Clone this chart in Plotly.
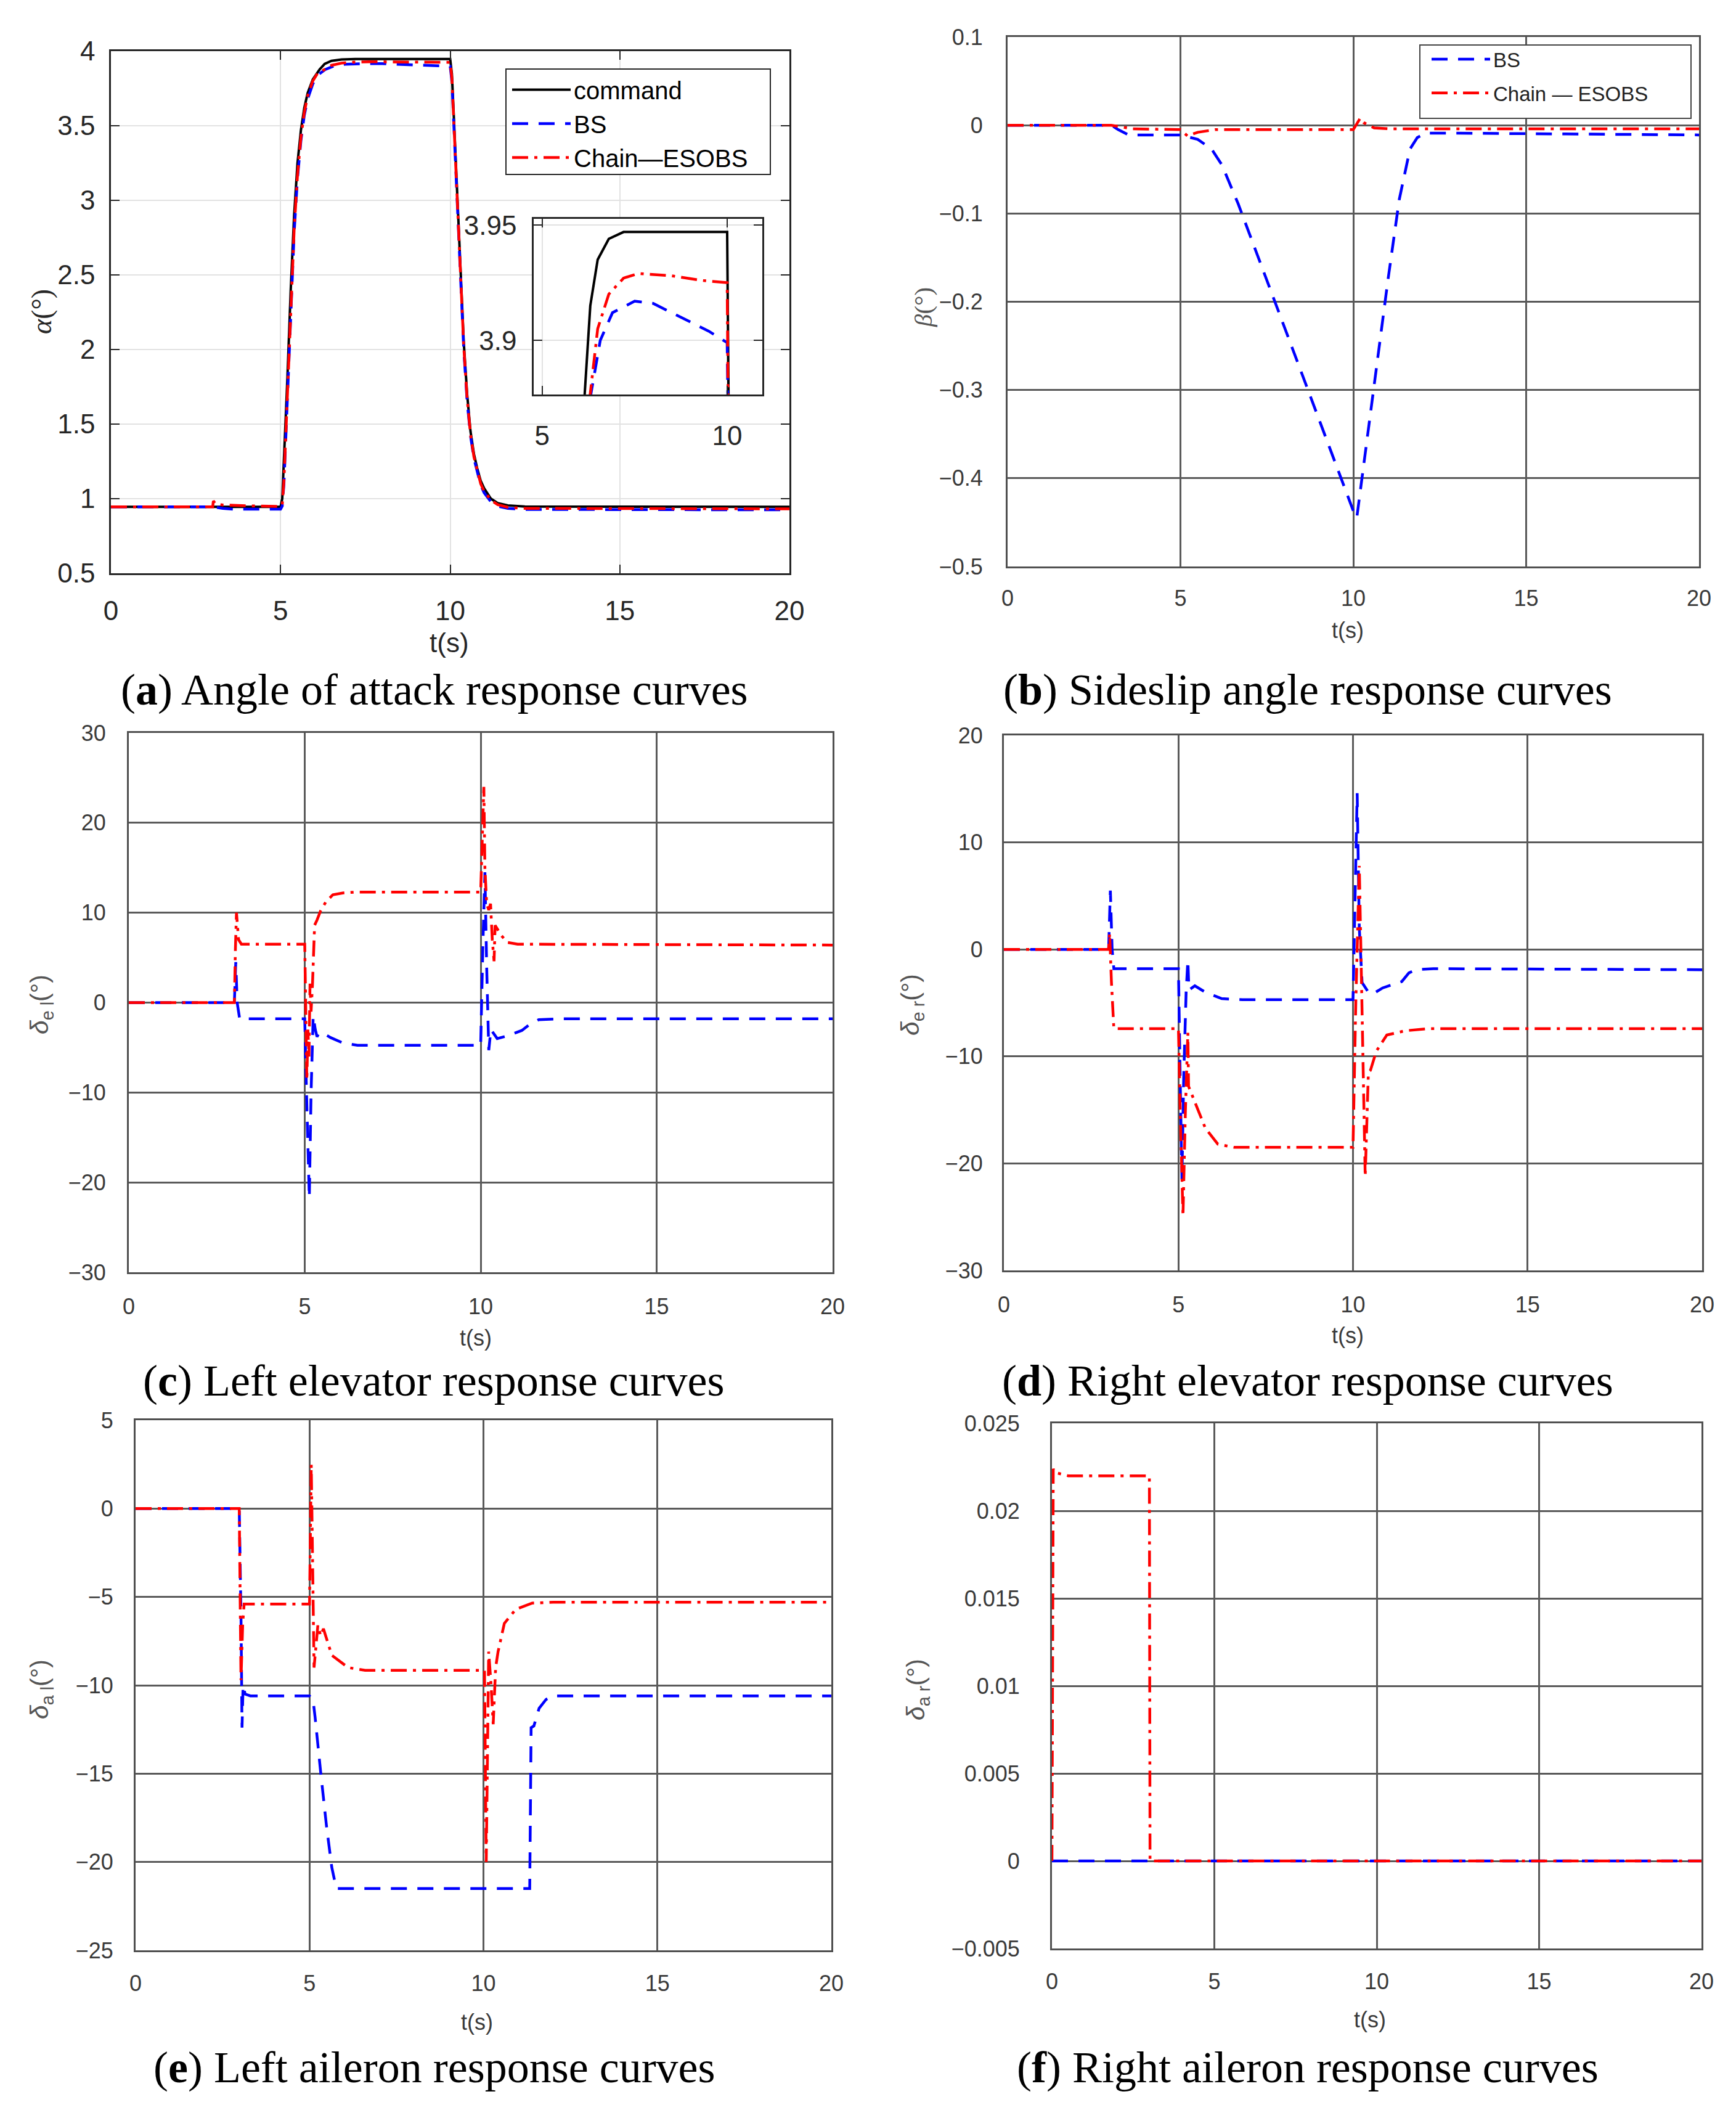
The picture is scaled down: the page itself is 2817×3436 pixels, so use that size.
import plotly.graph_objects as go

W, H = 2817, 3436
PAGE_PAD = 8  # default body margin of the written html page

# (a) angle of attack alpha (deg)
A_CMD_T = [0, 5.0, 5.05, 5.1, 5.2, 5.3, 5.4, 5.5, 5.6, 5.7, 5.8, 5.95, 6.15, 6.3, 6.5, 6.8, 7.2,
           10.0, 10.05, 10.1, 10.2, 10.3, 10.4, 10.5, 10.6, 10.7, 10.8, 10.9, 11.0, 11.2, 11.4, 11.7, 12.2, 20]
A_CMD = [0.945, 0.945, 1.0, 1.25, 1.8, 2.4, 2.9, 3.25, 3.47, 3.62, 3.72, 3.81, 3.877, 3.915, 3.935, 3.944, 3.947,
         3.947, 3.85, 3.6, 3.1, 2.55, 2.05, 1.7, 1.45, 1.3, 1.2, 1.12, 1.07, 1.0, 0.97, 0.955, 0.947, 0.945]
A_BS_T = [0, 3.0, 3.3, 3.6, 5.0, 5.05, 5.1, 5.2, 5.3, 5.4, 5.5, 5.6, 5.7, 5.8, 5.95, 6.1, 6.32, 6.57, 6.9,
          7.5, 8.0, 8.5, 9.0, 9.5, 10.0, 10.05, 10.1, 10.2, 10.3, 10.4, 10.5, 10.6, 10.7, 10.8, 10.9, 11.0,
          11.2, 11.4, 11.7, 12.2, 20]
A_BS = [0.945, 0.945, 0.935, 0.93, 0.93, 0.95, 1.1, 1.65, 2.25, 2.78, 3.15, 3.4, 3.57, 3.68, 3.78, 3.84, 3.877,
        3.9, 3.912, 3.917, 3.916, 3.912, 3.908, 3.904, 3.899, 3.8, 3.55, 3.05, 2.5, 2.0, 1.65, 1.42, 1.27, 1.17,
        1.09, 1.04, 0.98, 0.95, 0.935, 0.928, 0.925]
A_CH_T = [0, 3.0, 3.02, 3.08, 3.3, 4.0, 5.0, 5.05, 5.1, 5.2, 5.3, 5.4, 5.5, 5.6, 5.7, 5.8, 5.95, 6.1, 6.3,
          6.5, 6.8, 7.2, 7.6, 8.5, 9.3, 10.0, 10.05, 10.1, 10.2, 10.3, 10.4, 10.5, 10.6, 10.7, 10.8, 10.9,
          11.0, 11.2, 11.4, 11.7, 12.2, 20]
A_CH = [0.945, 0.945, 0.985, 0.965, 0.958, 0.952, 0.948, 0.96, 1.12, 1.68, 2.28, 2.8, 3.17, 3.42, 3.59, 3.7,
        3.8, 3.855, 3.877, 3.905, 3.92, 3.927, 3.929, 3.928, 3.926, 3.925, 3.82, 3.57, 3.07, 2.52, 2.02, 1.67,
        1.43, 1.28, 1.18, 1.1, 1.05, 0.99, 0.96, 0.942, 0.935, 0.932]

# (b) sideslip angle beta (deg)
B_BS_T = [0, 3.0, 3.2, 3.5, 5.0, 5.5, 5.9, 6.2, 6.67, 8.6, 10.0, 10.1, 10.3, 10.6, 11.0, 11.33, 11.64,
          11.85, 12.1, 13, 20]
B_BS = [0, 0, -0.005, -0.011, -0.011, -0.016, -0.027, -0.045, -0.089, -0.29, -0.437, -0.445, -0.385, -0.30,
        -0.176, -0.084, -0.027, -0.014, -0.009, -0.009, -0.011]
B_CH_T = [0, 3.0, 3.3, 3.6, 5.0, 5.1, 5.2, 5.5, 6.0, 10.0, 10.1, 10.2, 10.3, 10.6, 11, 20]
B_CH = [0, 0, -0.002, -0.004, -0.005, -0.009, -0.012, -0.008, -0.005, -0.005, 0.002, 0.008, 0.003, -0.003,
        -0.004, -0.004]

# (c) left elevator (deg)
C_BS_T = [0, 3.0, 3.04, 3.08, 3.15, 5.0, 5.05, 5.13, 5.18, 5.24, 5.3, 5.35, 5.39, 5.48, 5.74, 6.09, 6.5,
          10.0, 10.06, 10.12, 10.17, 10.23, 10.29, 10.47, 10.76, 11.17, 11.4, 11.65, 12.24, 20]
C_BS = [0, 0, 4.5, 0, -1.8, -1.8, -10, -21.7, -10, -1.5, -3, -3.8, -3.5, -3.3, -3.9, -4.5, -4.75,
        -4.75, 6, 14.5, 4, -5.3, -3, -4, -3.7, -3.1, -2.4, -1.9, -1.8, -1.8]
C_CH_T = [0, 3.0, 3.03, 3.06, 3.12, 3.2, 5.0, 5.03, 5.06, 5.09, 5.12, 5.15, 5.18, 5.22, 5.28, 5.35, 5.45,
          5.6, 5.8, 6.1, 6.5, 10.0, 10.04, 10.09, 10.12, 10.17, 10.23, 10.28, 10.33, 10.38, 10.41, 10.47,
          10.58, 10.76, 11.05, 20]
C_CH = [0, 0, 6, 10, 7, 6.5, 6.5, 0, -8.6, -3, -6, 2.1, -1, 2, 8.6, 9.2, 10.2, 11.2, 12, 12.2, 12.3,
        12.3, 18, 24, 15, 11, 10.3, 11, 7, 4.6, 8.6, 8.2, 7.5, 6.7, 6.5, 6.4]

# (d) right elevator (deg)
D_BS_T = [0, 3.0, 3.05, 3.1, 3.15, 5.0, 5.05, 5.1, 5.15, 5.22, 5.27, 5.3, 5.47, 5.77, 6.24, 6.83, 10.0,
          10.06, 10.12, 10.18, 10.26, 10.44, 10.55, 10.85, 11.1, 11.4, 11.6, 11.8, 12.3, 20]
D_BS = [0, 0, 5.5, 0, -1.8, -1.8, -12, -21.5, -12, -4, -1, -3.8, -3.4, -4.0, -4.6, -4.7, -4.7,
        5, 14.6, 2, -3.1, -4.0, -4.2, -3.6, -3.3, -3.0, -2.2, -1.9, -1.8, -1.9]
D_CH_T = [0, 3.0, 3.03, 3.08, 3.15, 5.0, 5.05, 5.13, 5.2, 5.27, 5.29, 5.55, 5.77, 6.13, 6.6, 10.0,
          10.08, 10.18, 10.27, 10.35, 10.44, 10.5, 10.67, 10.97, 11.5, 12.2, 20]
D_CH = [0, 0, 1.5, -3, -7.4, -7.4, -15, -24.9, -15, -7.8, -12.8, -14.9, -16.7, -18.2, -18.5, -18.5,
        -5, 7.8, -8, -21.2, -11.5, -11.3, -9.5, -8.0, -7.6, -7.4, -7.4]

# (e) left aileron (deg)
E_BS_T = [0, 2.98, 3.03, 3.06, 3.09, 3.15, 3.3, 5.0, 5.1, 5.16, 5.32, 5.49, 5.64, 5.77, 11.33, 11.37,
          11.45, 11.6, 11.8, 12.0, 20]
E_BS = [0, 0, -6, -12.4, -10, -10.5, -10.6, -10.6, -10.8, -11.8, -14.9, -18, -20.3, -21.5, -21.5, -12.4,
        -12.3, -11.3, -10.8, -10.6, -10.6]
E_CH_T = [0, 2.98, 3.03, 3.08, 3.12, 5.0, 5.05, 5.13, 5.24, 5.32, 5.4, 5.64, 6.11, 6.6, 10.03, 10.08,
          10.15, 10.22, 10.28, 10.35, 10.42, 10.6, 10.93, 11.4, 12, 20]
E_CH = [0, 0, -9.7, -6.5, -5.4, -5.4, 2.5, -9, -6.6, -7.2, -6.8, -8.3, -9.0, -9.15, -9.15, -20,
        -8.1, -10, -12.2, -9, -8.1, -6.5, -5.7, -5.35, -5.3, -5.3]

# (f) right aileron (deg)
F_BS_T = [0, 20]
F_BS = [0, 0]
F_CH_T = [0, 0.04, 0.08, 0.5, 1.0, 3.0, 3.02, 20]
F_CH = [0, 0.0224, 0.0222, 0.0220, 0.0220, 0.0220, 0, 0]

CAPTIONS = ["Angle of attack response curves", "Sideslip angle response curves",
            "Left elevator response curves", "Right elevator response curves",
            "Left aileron response curves", "Right aileron response curves"]
LETTERS = ["a", "b", "c", "d", "e", "f"]
Y_TITLES = ["<i>α</i>(°)", "<i>β</i>(°)", "<i>δ</i><sub>e l</sub>(°)", "<i>δ</i><sub>e r</sub>(°)",
            "<i>δ</i><sub>a l</sub>(°)", "<i>δ</i><sub>a r</sub>(°)"]

BLUE = "#0000ff"
RED = "#ff0000"
DASH_BS = "26px,17px"
DASH_CH = "26px,10px,5px,10px"
SANS = "Liberation Sans"
SERIF = "Liberation Serif"


def px_x(x):
    return (x - PAGE_PAD) / W


def px_y(y):
    return 1 - (y - PAGE_PAD) / H


fig = go.Figure()


def add(x, y, ax, name, color, dash, legend=None, width=4.5):
    fig.add_trace(go.Scatter(
        x=x, y=y, xaxis="x" + ax, yaxis="y" + ax, mode="lines", name=name,
        line=dict(color=color, dash=dash, width=width), legendgroup=name + ax,
        showlegend=legend is not None, legend=legend or "legend"))


# (a) + inset
add(A_CMD_T, A_CMD, "", "command", "#000000", "solid", legend="legend", width=4)
add(A_BS_T, A_BS, "", "BS", BLUE, DASH_BS, legend="legend")
add(A_CH_T, A_CH, "", "Chain—ESOBS", RED, DASH_CH, legend="legend")
add(A_CMD_T, A_CMD, "7", "command", "#000000", "solid", width=4)
add(A_BS_T, A_BS, "7", "BS", BLUE, DASH_BS)
add(A_CH_T, A_CH, "7", "Chain—ESOBS", RED, DASH_CH)
# (b)
add(B_BS_T, B_BS, "2", "BS", BLUE, DASH_BS, legend="legend2")
add(B_CH_T, B_CH, "2", "Chain — ESOBS", RED, DASH_CH, legend="legend2")
# (c)-(f)
for ax, (bt, bv, ct, cv) in zip(["3", "4", "5", "6"], [
        (C_BS_T, C_BS, C_CH_T, C_CH), (D_BS_T, D_BS, D_CH_T, D_CH),
        (E_BS_T, E_BS, E_CH_T, E_CH), (F_BS_T, F_BS, F_CH_T, F_CH)]):
    add(bt, bv, ax, "BS", BLUE, DASH_BS)
    add(ct, cv, ax, "Chain—ESOBS", RED, DASH_CH)

# pixel boxes of every plot area: (x0, x1, y0, y1)
boxes = {
    "": (180, 1281, 83, 930),
    "2": (1635, 2757, 60, 919),
    "3": (209, 1351, 1189, 2064),
    "4": (1629, 2762, 1193, 2061),
    "5": (220, 1349, 2304, 3164),
    "6": (1707, 2761, 2309, 3161),
    "7": (866, 1237, 355, 640),
}
yranges = {"": [0.5, 4], "2": [-0.5, 0.1], "3": [-30, 30], "4": [-30, 20], "5": [-25, 5],
           "6": [-0.005, 0.025], "7": [3.8765, 3.9527]}
ydticks = {"": 0.5, "2": 0.1, "3": 10, "4": 10, "5": 5, "6": 0.005}
standoff = {"2": (30, 18), "3": (27, 22), "4": (24, 22), "5": (26, 20), "6": (42, 20)}

layout = dict(width=W, height=H, margin=dict(l=0, r=0, t=0, b=0, autoexpand=False),
              paper_bgcolor="white", plot_bgcolor="white", showlegend=True)

for ax, (x0, x1, y0, y1) in boxes.items():
    xd = [px_x(x0), px_x(x1)]
    yd = [px_y(y1), px_y(y0)]
    if ax in ("", "7"):
        common = dict(showgrid=True, gridcolor="#e2e2e2", gridwidth=1.5, showline=True,
                      linecolor="#262626", linewidth=2.5, mirror="ticks", ticks="inside",
                      ticklen=14, tickwidth=2, tickcolor="#262626", zeroline=False, automargin=False,
                      tickfont=dict(size=44, color="#262626", family=SANS))
        xa = dict(common, domain=xd, anchor="y" + ax, ticklabelstandoff=20)
        ya = dict(common, domain=yd, anchor="x" + ax, ticklabelstandoff=14, range=yranges[ax])
        if ax == "":
            xa.update(range=[0, 20], tick0=0, dtick=5)
            ya.update(tick0=0.5, dtick=0.5)
        else:
            xa.update(range=[4.77, 10.95], tickvals=[5, 10], ticklabelstandoff=26)
            ya.update(tickvals=[3.9, 3.95], ticklabelstandoff=16)
    else:
        common = dict(showgrid=True, gridcolor="#5a5a5a", gridwidth=2.5, showline=True,
                      linecolor="#505050", linewidth=3, mirror=True, ticks="", zeroline=False,
                      automargin=False, tickfont=dict(size=36, color="#3a3a3a", family=SANS))
        sy, sx = standoff[ax]
        xa = dict(common, domain=xd, anchor="y" + ax, range=[0, 20], tick0=0, dtick=5,
                  ticklabelstandoff=sx)
        ya = dict(common, domain=yd, anchor="x" + ax, range=yranges[ax], tick0=0,
                  dtick=ydticks[ax], ticklabelstandoff=sy)
    layout["xaxis" + ax] = xa
    layout["yaxis" + ax] = ya

layout["legend"] = dict(x=px_x(826), y=px_y(113), xanchor="left", yanchor="top",
                        bgcolor="rgba(0,0,0,0)", borderwidth=0, itemwidth=95,
                        font=dict(size=40, family=SANS, color="#000000"), tracegroupgap=0)
layout["legend2"] = dict(x=px_x(2318), y=px_y(68), xanchor="left", yanchor="top",
                         bgcolor="rgba(0,0,0,0)", borderwidth=0, itemwidth=95,
                         font=dict(size=33, family=SANS, color="#222222"), tracegroupgap=9)

layout["shapes"] = [
    dict(type="rect", xref="paper", yref="paper", x0=px_x(821), x1=px_x(1250), y0=px_y(283),
         y1=px_y(112), line=dict(color="#262626", width=2), fillcolor="white", layer="above"),
    dict(type="rect", xref="paper", yref="paper", x0=px_x(2304), x1=px_x(2744), y0=px_y(192),
         y1=px_y(73), line=dict(color="#444444", width=2), fillcolor="white", layer="above"),
]

ann = []
# captions
cap_pos = [(705, 1119), (2122, 1119), (704, 2240), (2122, 2240), (705, 3354), (2122, 3354)]
for (cx, cy), letter, text in zip(cap_pos, LETTERS, CAPTIONS):
    ann.append(dict(x=px_x(cx), y=px_y(cy), xref="paper", yref="paper", showarrow=False,
                    xanchor="center", yanchor="middle",
                    text="(<b>%s</b>) %s" % (letter, text),
                    font=dict(size=72, family=SERIF, color="#000000")))
# x titles
xt_pos = [(729, 1042, 44, "#262626"), (2187, 1023, 36, "#3a3a3a"), (772, 2170, 36, "#3a3a3a"),
          (2187, 2166, 36, "#3a3a3a"), (774, 3280, 36, "#3a3a3a"), (2223, 3276, 36, "#3a3a3a")]
for (cx, cy, fs, col) in xt_pos:
    ann.append(dict(x=px_x(cx), y=px_y(cy), xref="paper", yref="paper", showarrow=False,
                    xanchor="center", yanchor="middle",
                    text="t(s)", font=dict(size=fs, family=SANS, color=col)))
# y titles
yt_pos = [(67, 506, 46, SERIF, "#262626"), (1498, 499, 41, SERIF, "#555555"),
          (67, 1630, 41, SANS, "#555555"), (1480, 1630, 41, SANS, "#555555"),
          (67, 2741, 41, SANS, "#555555"), (1489, 2741, 41, SANS, "#555555")]
for (cx, cy, fs, fam, col), text in zip(yt_pos, Y_TITLES):
    ann.append(dict(x=px_x(cx), y=px_y(cy), xref="paper", yref="paper", showarrow=False,
                    xanchor="center", yanchor="middle",
                    text=text, textangle=-90, font=dict(size=fs, family=fam, color=col)))
layout["annotations"] = ann

fig.update_layout(layout)
fig.write_html("out.html")
